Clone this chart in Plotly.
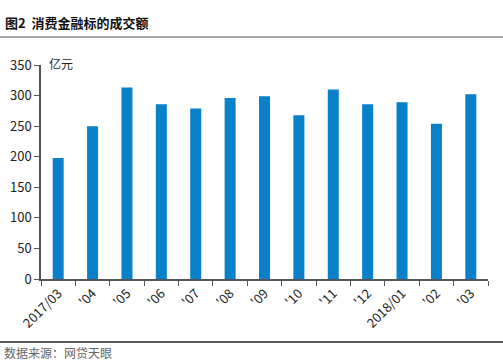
import plotly.graph_objects as go

categories = ["2017/03", "'04", "'05", "'06", "'07", "'08", "'09", "'10", "'11", "'12", "2018/01", "'02", "'03"]
values = [198, 250, 313, 286, 279, 296, 299, 268, 310, 286, 289, 254, 302]
y_ticks = [0, 50, 100, 150, 200, 250, 300, 350]

W, H = 503, 363
L, R, T, B = 41, 15, 65, 84
pw, ph = W - L - R, H - T - B

def px_x(x):
    return (x - L) / pw

def px_y(y):
    return (H - B - y) / ph

font = "Noto Sans CJK SC, Microsoft YaHei, sans-serif"

fig = go.Figure()
fig.add_trace(go.Bar(x=categories, y=values, marker=dict(color="#0880CA", line=dict(width=0)), width=0.32))

fig.update_layout(
    width=W, height=H,
    margin=dict(l=L, r=R, t=T, b=B),
    plot_bgcolor="white", paper_bgcolor="white",
    showlegend=False,
    font=dict(family=font, size=12, color="#222"),
    xaxis=dict(
        type="category", tickangle=-45, showline=True, linecolor="#555", linewidth=1.5,
        ticks="outside", tickson="boundaries", ticklen=5, tickcolor="#555",
        showgrid=False, tickfont=dict(size=13, color="#222"), automargin=False,
    ),
    yaxis=dict(
        range=[0, 350], tickvals=y_ticks, showline=True, linecolor="#555", linewidth=1.5,
        ticks="outside", ticklen=5, tickcolor="#555", showgrid=False, zeroline=False,
        tickfont=dict(size=13, color="#222"), automargin=False,
    ),
)

fig.add_annotation(text="<b>图2  消费金融标的成交额</b>", xref="paper", yref="paper",
                   x=px_x(3), y=px_y(22), xanchor="left", yanchor="middle", showarrow=False,
                   font=dict(size=13, color="#111", family=font))
fig.add_annotation(text="亿元", xref="paper", yref="paper",
                   x=px_x(47), y=px_y(63), xanchor="left", yanchor="middle", showarrow=False,
                   font=dict(size=12, color="#222", family=font))
fig.add_annotation(text="数据来源：网贷天眼", xref="paper", yref="paper",
                   x=px_x(2), y=px_y(352), xanchor="left", yanchor="middle", showarrow=False,
                   font=dict(size=12, color="#666", family=font))

fig.add_shape(type="line", xref="paper", yref="paper", x0=px_x(0), x1=px_x(W), y0=px_y(37), y1=px_y(37),
              line=dict(color="#555", width=1))
fig.add_shape(type="line", xref="paper", yref="paper", x0=px_x(0), x1=px_x(W), y0=px_y(342), y1=px_y(342),
              line=dict(color="#222", width=1.5))

fig.write_html("out.html", config={"displayModeBar": False},
               post_script="document.body.style.margin='0';document.body.style.overflow='hidden';")
